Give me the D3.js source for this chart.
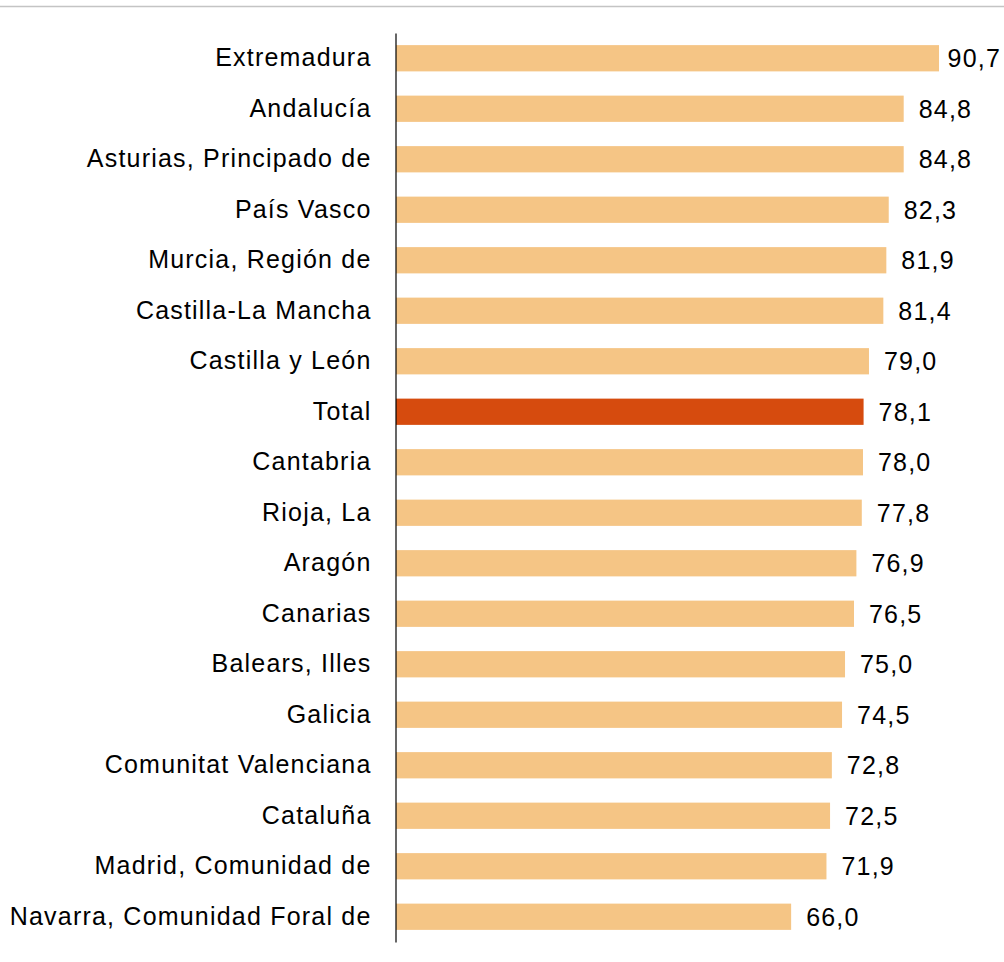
<!DOCTYPE html>
<html>
<head>
<script type="text/javascript" src="https://d3js.org/d3.v7.min.js"></script>
<style>
  body { margin: 0; background: #fff; }
</style>
</head>
<body>
<script>

var svgwidth = 1004;
var svgheight = 962;

var regions = ["Extremadura", "Andalucía", "Asturias, Principado de", "País Vasco",
  "Murcia, Región de", "Castilla-La Mancha", "Castilla y León", "Total", "Cantabria",
  "Rioja, La", "Aragón", "Canarias", "Balears, Illes", "Galicia",
  "Comunitat Valenciana", "Cataluña", "Madrid, Comunidad de", "Navarra, Comunidad Foral de"];
var values = [90.7, 84.8, 84.8, 82.3, 81.9, 81.4, 79.0, 78.1, 78.0,
  77.8, 76.9, 76.5, 75.0, 74.5, 72.8, 72.5, 71.9, 66.0];

var barColor = "#f5c585";
var totalColor = "#d64b0e";
var fontFam = "Liberation Sans, Arial, sans-serif";

var svg = d3.select("body")
  .append("svg")
  .attr("width", svgwidth)
  .attr("height", svgheight);

// thin grey rule along the top
svg.append("line")
  .attr("x1", 0).attr("x2", svgwidth)
  .attr("y1", 6.5).attr("y2", 6.5)
  .attr("stroke", "#c4c4c4")
  .attr("stroke-width", 1.5);

var x = d3.scaleLinear().domain([0, 100]).range([396, 396 + 598.7]);
var y = d3.scaleBand().domain(regions).range([33, 942]).paddingInner(0.48).paddingOuter(0.24);

svg.selectAll("rect.bar")
  .data(regions)
  .enter()
  .append("rect")
  .attr("class", "bar")
  .attr("x", x(0))
  .attr("y", function(d) { return y(d); })
  .attr("width", function(d, i) { return x(values[i]) - x(0); })
  .attr("height", y.bandwidth())
  .attr("fill", function(d) { return d == "Total" ? totalColor : barColor; });

var vals = svg.selectAll("text.val")
  .data(regions)
  .enter()
  .append("text")
  .attr("class", "val")
  .attr("y", function(d) { return y(d) + y.bandwidth() / 2; })
  .attr("dy", "0.36em")
  .style("font-family", fontFam)
  .style("font-size", "25px")
  .style("letter-spacing", "1.2px")
  .attr("fill", "#000")
  .text(function(d, i) { return values[i].toFixed(1).replace(".", ","); });

// push labels that would fall off the right edge back inside
vals.attr("x", function(d, i) {
  var w = this.getComputedTextLength();
  return Math.min(x(values[i]) + 15, svgwidth - 3 - w);
});

var axis = d3.axisLeft(y).tickSize(0).tickPadding(24);
var g = svg.append("g")
  .attr("transform", "translate(395.5,0)")
  .call(axis);
g.select(".domain").attr("stroke", "#000").attr("stroke-width", 1.2);
g.selectAll("text")
  .style("font-family", fontFam)
  .style("font-size", "25px")
  .style("letter-spacing", "1.2px")
  .attr("fill", "#000");

</script>
</body>
</html>
